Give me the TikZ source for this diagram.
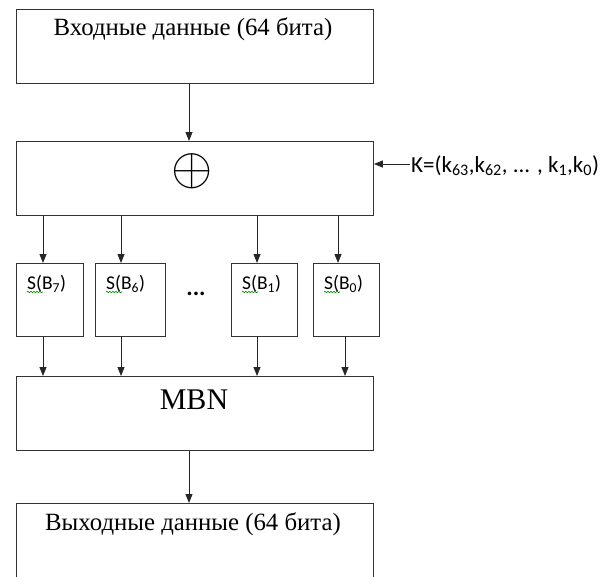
\documentclass[tikz,border=0pt]{standalone}
\usepackage{fontspec}
\setmainfont{Liberation Serif}
\newfontfamily\calib{Carlito}
\usetikzlibrary{arrows.meta,decorations.pathmorphing}
\begin{document}
\begin{tikzpicture}[x=1pt,y=-1pt,
  box/.style={draw=black!80,line width=0.9pt,minimum width=357pt,minimum height=74pt,inner sep=0pt,anchor=north west},
  sbox/.style={draw=black!80,line width=0.9pt,minimum height=73pt,inner sep=0pt,anchor=north west},
  arr/.style={draw=black!85,line width=0.9pt,-{Triangle[width=7pt,length=9pt]}},
  rus/.style={font=\fontsize{24.8}{28}\selectfont,inner sep=0pt,anchor=base},
  stext/.style={font=\calib\fontsize{19.5}{22}\selectfont,inner sep=0pt,anchor=base west},
  squig/.style={draw=green!55!black,line width=0.6pt,decorate,decoration={snake,segment length=3pt,amplitude=0.8pt}}]
\useasboundingbox (0,0) rectangle (609,576);
\clip (0,0) rectangle (609,576);
% boxes
\node[box] (in) at (16,9) {};
\node[box] (xor) at (16,141) {};
\node[sbox,minimum width=67pt] (s7) at (16,263) {};
\node[sbox,minimum width=70pt] (s6) at (95,263) {};
\node[sbox,minimum width=66pt] (s1) at (231,263) {};
\node[sbox,minimum width=66pt] (s0) at (313,263) {};
\node[box] (mbn) at (16,376) {};
\node[box,minimum height=120pt] (out) at (16,503) {};
% texts
\node[rus] (tin) at (193,35) {Входные данные (64 бита)};
\node[inner sep=0pt] (txor) at (192.5,171.5) {\scalebox{5.3}{$\oplus$}};
\node[rus,font=\fontsize{30}{34}\selectfont] (tmbn) at (194,409) {MBN};
\node[rus] (tout) at (193,530) {Выходные данные (64 бита)};
\node[stext] (ts7) at (27,289) {S(B\textsubscript{7})};
\node[stext] (ts6) at (106,289) {S(B\textsubscript{6})};
\node[stext] (ts1) at (242,289) {S(B\textsubscript{1})};
\node[stext] (ts0) at (324,289) {S(B\textsubscript{0})};
\node[inner sep=0pt,font=\calib\bfseries\fontsize{24}{28}\selectfont] (dots) at (196,294) {...};
\node[stext,font=\calib\fontsize{23}{26}\selectfont] (key) at (411,172) {K=(k\textsubscript{63},k\textsubscript{62}, ... , k\textsubscript{1},k\textsubscript{0})};
% spell-check squiggles
\foreach \n in {ts7,ts6,ts1,ts0}{
  \draw[squig] ([yshift=-3pt]\n.base west) -- ++(16,0);
}
% connectors
\coordinate (cx) at (189,0);
\coordinate (a7) at (43,0);
\coordinate (a6) at (121,0);
\coordinate (a1) at (257,0);
\coordinate (a0) at (338,0);
\coordinate (b0) at (345,0);
\coordinate (ky) at (0,164);
\draw[arr] (in.south -| cx) -- (xor.north -| cx);
\draw[arr] (key.west |- ky) ++(-1,0) -- (xor.east |- ky);
\foreach \a/\s in {a7/s7,a6/s6,a1/s1,a0/s0}{
  \draw[arr] (xor.south -| \a) -- (\s.north -| \a);
}
\foreach \a/\s in {a7/s7,a6/s6,a1/s1,b0/s0}{
  \draw[arr] (\s.south -| \a) -- (mbn.north -| \a);
}
\draw[arr] (mbn.south -| cx) -- (out.north -| cx);
\end{tikzpicture}
\end{document}
